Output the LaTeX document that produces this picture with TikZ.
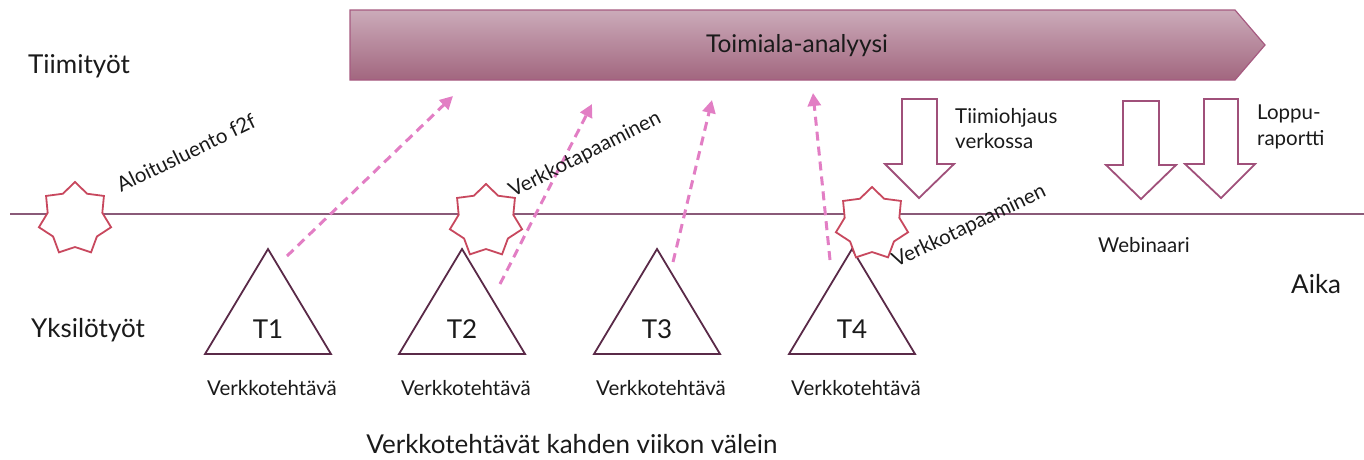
\documentclass[tikz,border=0pt]{standalone}
\usepackage{fontspec}
\setmainfont{Lato}
\usetikzlibrary{shapes.geometric,arrows.meta}
\definecolor{lineC}{HTML}{8A5A78}
\definecolor{starC}{HTML}{C8485E}
\definecolor{triC}{HTML}{5A2A48}
\definecolor{dashC}{HTML}{E27EC4}
\definecolor{blockC}{HTML}{A0507A}
\definecolor{bannerTop}{HTML}{CBABB9}
\definecolor{bannerBot}{HTML}{A2667F}
\definecolor{bannerEdge}{HTML}{A65A80}
\definecolor{txt}{HTML}{1A1A1A}
\tikzset{
  big/.style={font=\fontsize{26}{30}\selectfont, text=txt, inner sep=0pt},
  small/.style={font=\fontsize{20.5}{25.5}\selectfont, text=txt, inner sep=0pt},
  starnode/.style={star, star points=7, star point ratio=1.32, minimum size=74pt, inner sep=0pt, draw=starC, line width=1.8pt, fill=white},
  tri/.style={draw=triC, line width=1.8pt, fill=white, line join=miter},
  dasharrow/.style={draw=dashC, line width=3pt, dash pattern=on 9pt off 6pt, -{Triangle[length=13pt,width=13pt]}},
  blockarrow/.style={draw=blockC, line width=1.8pt, fill=white},
}
\begin{document}
\begin{tikzpicture}[x=1pt,y=-1pt]
\useasboundingbox (0,0) rectangle (1364,459);
% timeline
\coordinate (tlA) at (10,214);
\coordinate (tlB) at (1364,214);
\draw[lineC, line width=1.4pt] (tlA) -- (tlB);
% banner
\path[draw=bannerEdge, line width=1.2pt, top color=bannerTop, bottom color=bannerBot]
  (350,10) -- (1235,10) -- (1265,45) -- (1235,80) -- (350,80) -- cycle;
\node[big, font=\fontsize{24.5}{28}\selectfont] (banner) at (797,46) {Toimiala-analyysi};
% row labels
\node[big, anchor=base west] (tiimi) at (28,73) {Tiimityöt};
\node[big, anchor=base west] (yksilo) at (31,337) {Yksilötyöt};
\node[big, anchor=base west] (aika) at (1291,293) {Aika};
% triangles
\foreach \n/\cx in {1/268, 2/462, 3/657, 4/852}{
  \draw[tri] (\cx-63,354) -- (\cx,249) -- (\cx+63,354) -- cycle;
  \node[big, anchor=base] (T\n) at (\cx,338) {T\n};
  \node[small, anchor=base] (V\n) at (\cx+4,395) {Verkkotehtävä};
}
% dashed arrows
\coordinate (a1s) at (287,256); \coordinate (a1e) at (453,96);
\coordinate (a2s) at (500,284); \coordinate (a2e) at (592,104);
\coordinate (a3s) at (673,262); \coordinate (a3e) at (712,100);
\coordinate (a4s) at (830,260); \coordinate (a4e) at (813,93);
\draw[dasharrow] (a1s) -- (a1e);
\draw[dasharrow] (a3s) -- (a3e);
\draw[dasharrow] (a4s) -- (a4e);
% stars
\node[starnode] (s1) at (75,219) {};
\node[starnode] (s2) at (486,221) {};
\node[starnode] (s3) at (872,224) {};
\draw[dasharrow] (a2s) -- (a2e);
% rotated labels
\node[small, anchor=base west, rotate=26] (l1) at (121,193) {Aloitusluento f2f};
\node[small, anchor=base west, rotate=27] (l2) at (513,198) {Verkkotapaaminen};
\node[small, anchor=base west, rotate=25.5] (l3) at (896,268) {Verkkotapaaminen};
% block arrows
\draw[blockarrow] (902,99) -- (937,99) -- (937,164) -- (954,164) -- (919,198) -- (885,164) -- (902,164) -- cycle;
\draw[blockarrow] (1123,101) -- (1159,101) -- (1159,165) -- (1176,165) -- (1141,199) -- (1106,165) -- (1123,165) -- cycle;
\draw[blockarrow] (1204,99) -- (1238,99) -- (1238,164) -- (1255,164) -- (1221,198) -- (1185,164) -- (1204,164) -- cycle;
\node[small, anchor=base west] (tiimiohj1) at (955,123) {Tiimiohjaus};
\node[small, anchor=base west] (tiimiohj2) at (955,148) {verkossa};
\node[small, anchor=base west] (loppu1) at (1257,119) {Loppu-};
\node[small, anchor=base west] (loppu2) at (1257,145) {raportti};
\node[small, anchor=base west] (webi) at (1098,252) {Webinaari};
% bottom caption
\node[big, anchor=base] (caption) at (572,453) {Verkkotehtävät kahden viikon välein};
\end{tikzpicture}
\end{document}
